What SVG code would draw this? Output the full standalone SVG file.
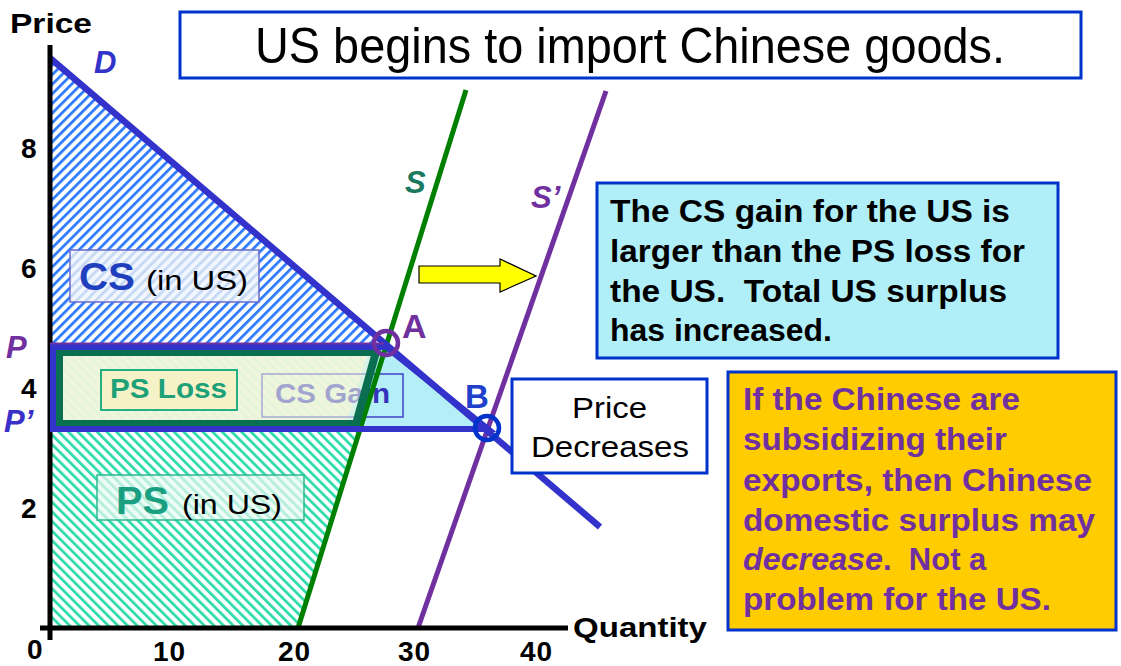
<svg xmlns="http://www.w3.org/2000/svg" width="1121" height="666" viewBox="0 0 1121 666">
<style>
text{font-family:"Liberation Sans",Arial,sans-serif}
.b{font-weight:bold}
.tick{font-weight:bold;font-size:28px;fill:#000}
.box{stroke:#0033cc;stroke-width:3}
.note{font-weight:bold;font-size:31px}
.lbl{font-weight:bold;font-style:italic;font-size:31px}
</style>
<defs>
<pattern id="csHatch" width="6.8" height="6.8" patternUnits="userSpaceOnUse" patternTransform="rotate(45)">
<rect width="6.8" height="6.8" fill="#ffffff"/><rect width="2.7" height="6.8" fill="#2a78ff"/>
</pattern>
<pattern id="psHatch" width="6.8" height="6.8" patternUnits="userSpaceOnUse" patternTransform="rotate(-45)">
<rect width="6.8" height="6.8" fill="#ffffff"/><rect width="2.7" height="6.8" fill="#2adcaa"/>
</pattern>
<pattern id="paleHatch" width="6.8" height="6.8" patternUnits="userSpaceOnUse" patternTransform="rotate(-45)">
<rect width="6.8" height="6.8" fill="#eef6da"/><rect width="2.9" height="6.8" fill="#d6f0dc"/>
</pattern>
<pattern id="csLblHatch" width="6.8" height="6.8" patternUnits="userSpaceOnUse" patternTransform="rotate(45)">
<rect width="6.8" height="6.8" fill="#f2f6ff"/><rect width="2.9" height="6.8" fill="#c8daf6"/>
</pattern>
<pattern id="psLblHatch" width="6.8" height="6.8" patternUnits="userSpaceOnUse" patternTransform="rotate(-45)">
<rect width="6.8" height="6.8" fill="#eefcf7"/><rect width="2.9" height="6.8" fill="#b8efdc"/>
</pattern>
</defs>

<rect width="1121" height="666" fill="#ffffff"/>

<g id="cs-area">
<polygon points="50,58 386,345 50,345" fill="url(#csHatch)"/>
</g>
<g id="ps-area">
<polygon points="50,429 360,429 298,628 50,628" fill="url(#psHatch)"/>
</g>
<g id="ps-loss-base">
<polygon points="50,346 386,346 360,429 50,429" fill="url(#paleHatch)"/>
</g>
<g id="cs-gain">
<polygon points="386,346 488,429 360,429" fill="#b4eef6"/>
<polygon points="370,346 386,346 360,429 345,429" fill="#b4eef6"/>
<rect x="262" y="374" width="141" height="43" fill="none" stroke="#4040c8" stroke-width="1.5"/>
<text x="275" y="403" class="b" font-size="28" fill="#3434bc" textLength="115" lengthAdjust="spacingAndGlyphs">CS Gain</text>
</g>
<g id="ps-loss-overlay">
<polygon points="50,346 376,346 356,429 50,429" fill="#f2f7dd" opacity="0.58"/>
</g>

<g id="connectors">
<line x1="298" y1="628" x2="466" y2="90" stroke="#008000" stroke-width="5"/>
<line x1="418" y1="628" x2="606" y2="91" stroke="#7030a0" stroke-width="5"/>
<line x1="50" y1="58" x2="600" y2="527" stroke="#3333cc" stroke-width="6.5"/>
<line x1="50" y1="45" x2="50" y2="640" stroke="#000" stroke-width="5"/>
<line x1="40" y1="628" x2="568" y2="628" stroke="#000" stroke-width="5"/>
<polygon points="59,352 376,352 356,424 59,424" fill="none" stroke="#0a6e50" stroke-width="8" stroke-linejoin="miter"/>
<polygon points="53,347 386,347 488,429 53,429" fill="none" stroke="#3333cc" stroke-width="6"/>
<line x1="50" y1="343.5" x2="384" y2="343.5" stroke="#7030a0" stroke-width="2"/>
<polygon points="419,266 500,266 500,259 536,276 500,292 500,283 419,283" fill="#ffff00" stroke="#000" stroke-width="1.2"/>
</g>

<g id="label-cs">
<rect x="70" y="250" width="189" height="52" fill="url(#csLblHatch)" stroke="#6a6acc" stroke-width="1.5"/>
<text x="79" y="290" class="b" font-size="38" fill="#1f3fbf" textLength="56" lengthAdjust="spacingAndGlyphs">CS</text>
<text x="146" y="290" font-size="28" fill="#000" textLength="102" lengthAdjust="spacingAndGlyphs">(in US)</text>
</g>
<g id="label-ps">
<rect x="97" y="475" width="207" height="45" fill="url(#psLblHatch)" stroke="#2cb890" stroke-width="1.5"/>
<text x="116" y="514" class="b" font-size="38" fill="#1aa080" textLength="53" lengthAdjust="spacingAndGlyphs">PS</text>
<text x="182" y="514" font-size="28" fill="#000" textLength="100" lengthAdjust="spacingAndGlyphs">(in US)</text>
</g>
<g id="label-ps-loss">
<rect x="101" y="370" width="136" height="40" fill="#f6f2c8" stroke="#22b084" stroke-width="2"/>
<text x="110" y="398" class="b" font-size="28" fill="#1ea078" textLength="117" lengthAdjust="spacingAndGlyphs">PS Loss</text>
</g>

<g id="point-a">
<circle cx="386" cy="343" r="12" fill="none" stroke="#7030a0" stroke-width="4.5"/>
<text x="402" y="338" class="b" font-size="34" fill="#7030a0">A</text>
</g>
<g id="point-b">
<circle cx="487" cy="428" r="12" fill="none" stroke="#0033cc" stroke-width="4.5"/>
<text x="465" y="408" class="b" font-size="33" fill="#2040cc">B</text>
</g>

<g id="curve-labels">
<text x="94" y="73" class="lbl" fill="#3333cc">D</text>
<text x="405" y="193" class="lbl" fill="#1a7a5f">S</text>
<text x="531" y="208" class="lbl" fill="#7030a0">S’</text>
<text x="6" y="358" class="lbl" fill="#7030a0">P</text>
<text x="4" y="432" class="lbl" fill="#3a2fc8">P’</text>
</g>

<g id="axis-labels">
<text x="10" y="33" class="b" font-size="28" textLength="82" lengthAdjust="spacingAndGlyphs">Price</text>
<text x="573" y="637" class="b" font-size="28" textLength="134" lengthAdjust="spacingAndGlyphs">Quantity</text>
<text x="21" y="158" class="tick">8</text>
<text x="21" y="278" class="tick">6</text>
<text x="21" y="398" class="tick">4</text>
<text x="21" y="518" class="tick">2</text>
<text x="27" y="659" class="tick">0</text>
<text x="153" y="661" class="tick" textLength="32">10</text>
<text x="278" y="661" class="tick" textLength="32">20</text>
<text x="398" y="661" class="tick" textLength="32">30</text>
<text x="520" y="661" class="tick" textLength="32">40</text>
</g>

<g id="title">
<rect x="180" y="12" width="901" height="66" fill="#fff" class="box"/>
<text x="255" y="63" font-size="50" fill="#000" textLength="750" lengthAdjust="spacingAndGlyphs">US begins to import Chinese goods.</text>
</g>

<g id="note-cs">
<rect x="597" y="183" width="461" height="175" fill="#b0eef8" class="box"/>
<text class="note" fill="#000">
<tspan x="610" y="222" textLength="400" lengthAdjust="spacingAndGlyphs">The CS gain for the US is</tspan>
<tspan x="610" y="262" textLength="415" lengthAdjust="spacingAndGlyphs">larger than the PS loss for</tspan>
<tspan x="610" y="302" textLength="397" lengthAdjust="spacingAndGlyphs" xml:space="preserve">the US.  Total US surplus</tspan>
<tspan x="610" y="341" textLength="222" lengthAdjust="spacingAndGlyphs">has increased.</tspan>
</text>
</g>

<g id="note-price">
<rect x="512" y="379" width="195" height="94" fill="#fff" class="box"/>
<text x="572" y="418" font-size="29" fill="#000" textLength="75" lengthAdjust="spacingAndGlyphs">Price</text>
<text x="531" y="457" font-size="29" fill="#000" textLength="158" lengthAdjust="spacingAndGlyphs">Decreases</text>
</g>

<g id="note-china">
<rect x="728" y="372" width="388" height="258" fill="#ffcc00" class="box"/>
<text class="note" fill="#7030a0">
<tspan x="743" y="410" textLength="277" lengthAdjust="spacingAndGlyphs">If the Chinese are</tspan>
<tspan x="743" y="450" textLength="264" lengthAdjust="spacingAndGlyphs">subsidizing their</tspan>
<tspan x="743" y="491" textLength="349" lengthAdjust="spacingAndGlyphs">exports, then Chinese</tspan>
<tspan x="743" y="531" textLength="352" lengthAdjust="spacingAndGlyphs">domestic surplus may</tspan>
<tspan x="743" y="570" font-style="italic" textLength="140" lengthAdjust="spacingAndGlyphs">decrease</tspan><tspan xml:space="preserve">.  Not a</tspan>
<tspan x="743" y="610" textLength="308" lengthAdjust="spacingAndGlyphs">problem for the US.</tspan>
</text>
</g>
</svg>
